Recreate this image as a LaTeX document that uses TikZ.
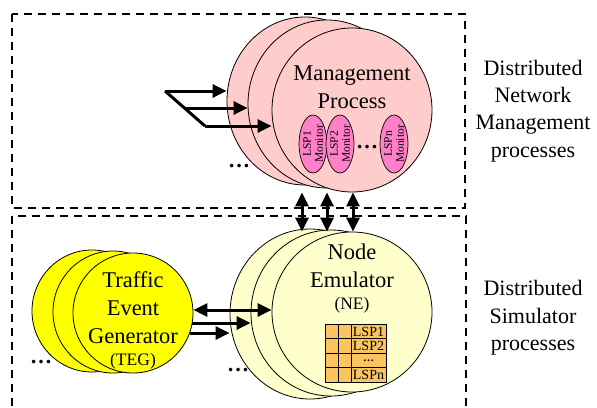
\documentclass[tikz,border=0pt]{standalone}
\usepackage{fontspec}
\setmainfont{Liberation Serif}
\usetikzlibrary{shapes.geometric,arrows.meta}

\definecolor{mgmtpink}{RGB}{255,204,204}
\definecolor{monpink}{RGB}{255,128,200}
\definecolor{nefill}{RGB}{255,255,204}
\definecolor{tegfill}{RGB}{255,255,0}
\definecolor{tablefill}{RGB}{250,196,96}

\begin{document}
\begin{tikzpicture}[x=1pt,y=-1pt,
  >={Triangle[length=14pt,width=13pt]},
  proc/.style={ellipse, draw, line width=0.8pt, inner sep=0pt},
  monitor/.style={ellipse, draw, line width=0.7pt, fill=monpink, inner sep=0pt,
    align=center, font=\fontsize{11.5}{12}\selectfont},
  big/.style={align=center, font=\fontsize{22.5}{28}\selectfont, inner sep=0pt},
  small/.style={font=\fontsize{17.5}{20}\selectfont, inner sep=0pt},
  side/.style={align=center, font=\fontsize{22}{27.3}\selectfont, inner sep=0pt},
  cell/.style={font=\fontsize{14}{14.5}\selectfont, inner sep=0pt},
  dots/.style={font=\fontsize{22}{24}\selectfont\bfseries, inner sep=0pt},
  link/.style={line width=3pt},
  boxline/.style={line width=2.8pt, dash pattern=on 8pt off 6pt}
]
\useasboundingbox (0,0) rectangle (597,407);

% dashed process boundaries
\begin{scope}
  \clip (0,0) rectangle (597,407);
  \draw[boxline] (12,14) rectangle (465,208);
  \draw[boxline] (12,420) -- (12,216) -- (466,216) -- (466,420);
\end{scope}

% management processes
\node[proc, fill=mgmtpink, minimum width=156pt, minimum height=168pt] (mpA) at (305,101) {};
\node[proc, fill=mgmtpink, minimum width=158pt, minimum height=168pt] (mpB) at (327,104) {};
\node[proc, fill=mgmtpink, minimum width=160pt, minimum height=164pt] (mpC) at (352,110) {};
\node[big] (mpText) at (352,87) {Management\\Process};

\node[monitor, minimum width=58pt, minimum height=25pt, rotate=90] (mon1) at (313,144) {LSP1\\Monitor};
\node[monitor, minimum width=58pt, minimum height=27pt, rotate=90] (mon2) at (340,144) {LSP2\\Monitor};
\node[monitor, minimum width=58pt, minimum height=27pt, rotate=90] (monN) at (394,144) {LSPn\\Monitor};
\node[dots] (monDots) at (367,147) {\dots};
\node[dots] (mpDots) at (239,166) {\dots};

% incoming management links
\coordinate (inA) at (165,91);
\coordinate (inB) at (185,108);
\coordinate (inC) at (205,126);
\draw[link, line join=miter] (inA) -- (inC);
\draw[link, ->] (inA) -- (mpA.west |- inA);
\draw[link, ->] (inB) -- (mpB.west |- inB);
\draw[link, ->] (inC) -- (mpC.west |- inC);

% node emulators
\node[proc, fill=nefill, minimum width=160pt, minimum height=170pt] (neA) at (310,314) {};
\node[proc, fill=nefill, minimum width=160pt, minimum height=166pt] (neB) at (331,313) {};
\node[proc, fill=nefill, minimum width=160pt, minimum height=160pt] (neC) at (352,312) {};
\node[big] (neText) at (352,266) {Node\\Emulator};
\node[small] (neAbbr) at (352,305) {(NE)};
\node[dots] (neDots) at (238,370) {\dots};

% LSP table
\fill[tablefill] (325,324) rectangle (386,382);
\draw[line width=0.7pt] (325,324) rectangle (386,382);
\foreach \y in {338.5,353,367.5} \draw[line width=0.7pt] (325,\y) -- (386,\y);
\foreach \x in {338,351} \draw[line width=0.7pt] (\x,324) -- (\x,382);
\node[cell] (lsp1) at (368.5,331.5) {LSP1};
\node[cell] (lsp2) at (368.5,346) {LSP2};
\node[cell, font=\fontsize{11}{12}\selectfont\bfseries] (lspDots) at (368.5,361) {\dots};
\node[cell] (lspN) at (368.5,375) {LSPn};

% traffic event generators
\node[proc, fill=tegfill, minimum width=120pt, minimum height=122pt] (tgA) at (92,311) {};
\node[proc, fill=tegfill, minimum width=120pt, minimum height=122pt] (tgB) at (113,312) {};
\node[proc, fill=tegfill, minimum width=120pt, minimum height=120pt] (tgC) at (133,313) {};
\node[big] (tgText) at (133,308) {Traffic\\Event\\Generator};
\node[small] (tgAbbr) at (133,361) {(TEG)};
\node[dots] (tgDots) at (41,362) {\dots};

% generator to emulator links
\draw[link, <->] (tgC.east |- 0,310) -- (neC.west |- 0,310);
\draw[link, ->] (192,323) -- (neB.west |- 0,323);
\draw[link, ->] (190,333) -- (neA.west |- 0,333);

% management to emulator links
\foreach \x in {302,327,353}
  \draw[link, <->] (\x,0 |- mpC.south) -- (\x,0 |- neC.north);

% side captions
\node[side] (capTop) at (533,111) {Distributed\\Network\\Management\\processes};
\node[side] (capBot) at (533,318) {Distributed\\Simulator\\processes};
\end{tikzpicture}
\end{document}
